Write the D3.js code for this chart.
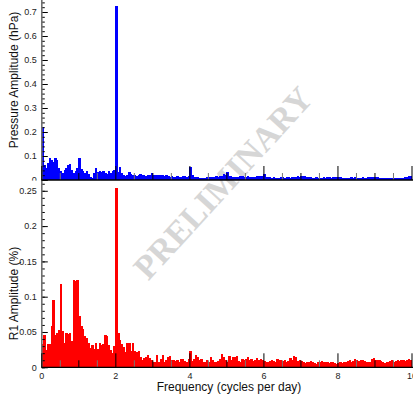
<!DOCTYPE html>
<html>
<head>
<meta charset="utf-8">
<script src="https://cdn.jsdelivr.net/npm/d3@7"></script>
<style>
  html, body { margin: 0; padding: 0; background: #fff; overflow: hidden; }
  .sans { font-family: "Liberation Sans", Arial, sans-serif; }
  .stamp { font-family: "Liberation Serif", "Times New Roman", serif; font-weight: bold; }
</style>
</head>
<body>
<svg id="chart" width="413" height="400"></svg>
<script>
// Spectral bins: left edge of each 0.05 cycles/day bin from 0 to 10
const binWidth = 0.05;

// Surface pressure amplitude spectrum (hPa), one value per bin
const pressureAmp = [
  0.222, 0.062, 0.049, 0.072, 0.090, 0.083, 0.076, 0.090, 0.083, 0.049,
  0.039, 0.028, 0.042, 0.049, 0.062, 0.066, 0.042, 0.031, 0.039, 0.049,
  0.090, 0.045, 0.039, 0.028, 0.039, 0.025, 0.014, 0.007, 0.028, 0.049,
  0.035, 0.039, 0.035, 0.038, 0.028, 0.025, 0.039, 0.031, 0.039, 0.042,
  0.725, 0.035, 0.055, 0.028, 0.021, 0.017, 0.019, 0.032, 0.024, 0.021,
  0.019, 0.017, 0.019, 0.025, 0.022, 0.019, 0.018, 0.021, 0.020, 0.028,
  0.021, 0.020, 0.022, 0.021, 0.019, 0.020, 0.018, 0.021, 0.015, 0.014,
  0.017, 0.014, 0.014, 0.015, 0.013, 0.014, 0.018, 0.016, 0.014, 0.017,
  0.055, 0.022, 0.014, 0.012, 0.011, 0.010, 0.009, 0.010, 0.010, 0.012,
  0.011, 0.013, 0.012, 0.014, 0.015, 0.013, 0.016, 0.018, 0.025, 0.020,
  0.032, 0.018, 0.015, 0.013, 0.012, 0.014, 0.013, 0.016, 0.015, 0.014,
  0.013, 0.015, 0.014, 0.012, 0.014, 0.013, 0.015, 0.018, 0.016, 0.018,
  0.025, 0.014, 0.012, 0.011, 0.010, 0.011, 0.010, 0.009, 0.010, 0.011,
  0.012, 0.010, 0.011, 0.012, 0.010, 0.012, 0.011, 0.013, 0.015, 0.014,
  0.016, 0.017, 0.015, 0.013, 0.012, 0.011, 0.010, 0.010, 0.012, 0.010,
  0.008, 0.009, 0.011, 0.010, 0.012, 0.011, 0.010, 0.012, 0.011, 0.012,
  0.013, 0.011, 0.010, 0.009, 0.008, 0.010, 0.009, 0.011, 0.010, 0.012,
  0.008, 0.009, 0.010, 0.011, 0.010, 0.009, 0.011, 0.012, 0.013, 0.014,
  0.013, 0.012, 0.010, 0.009, 0.010, 0.008, 0.007, 0.009, 0.010, 0.009,
  0.008, 0.007, 0.009, 0.010, 0.008, 0.009, 0.011, 0.013, 0.016, 0.015
];

// R1 amplitude spectrum (%), one value per bin
const r1Amp = [
  0.033, 0.046, 0.025, 0.033, 0.033, 0.059, 0.095, 0.046, 0.049, 0.053,
  0.118, 0.051, 0.035, 0.048, 0.047, 0.049, 0.037, 0.123, 0.122, 0.124,
  0.072, 0.059, 0.054, 0.044, 0.041, 0.035, 0.027, 0.032, 0.026, 0.035,
  0.026, 0.034, 0.031, 0.033, 0.046, 0.045, 0.031, 0.025, 0.020, 0.030,
  0.254, 0.049, 0.038, 0.033, 0.029, 0.022, 0.035, 0.034, 0.023, 0.034,
  0.023, 0.021, 0.023, 0.015, 0.010, 0.013, 0.015, 0.018, 0.013, 0.011,
  0.008, 0.007, 0.017, 0.008, 0.012, 0.017, 0.008, 0.010, 0.014, 0.016,
  0.010, 0.010, 0.009, 0.010, 0.008, 0.012, 0.012, 0.009, 0.008, 0.012,
  0.023, 0.009, 0.012, 0.017, 0.014, 0.011, 0.012, 0.008, 0.007, 0.011,
  0.008, 0.015, 0.010, 0.008, 0.007, 0.009, 0.012, 0.019, 0.014, 0.011,
  0.008, 0.016, 0.010, 0.014, 0.015, 0.016, 0.009, 0.007, 0.012, 0.011,
  0.012, 0.014, 0.010, 0.012, 0.009, 0.011, 0.013, 0.010, 0.012, 0.011,
  0.009, 0.008, 0.007, 0.009, 0.010, 0.009, 0.008, 0.012, 0.011, 0.010,
  0.009, 0.010, 0.008, 0.009, 0.013, 0.011, 0.016, 0.015, 0.009, 0.010,
  0.009, 0.007, 0.006, 0.008, 0.007, 0.009, 0.008, 0.006, 0.005, 0.007,
  0.008, 0.009, 0.008, 0.007, 0.008, 0.006, 0.007, 0.007, 0.006, 0.005,
  0.006, 0.007, 0.006, 0.008, 0.007, 0.009, 0.010, 0.008, 0.009, 0.012,
  0.010, 0.009, 0.010, 0.011, 0.009, 0.008, 0.007, 0.008, 0.012, 0.013,
  0.011, 0.010, 0.011, 0.009, 0.007, 0.006, 0.008, 0.007, 0.009, 0.010,
  0.008, 0.009, 0.010, 0.009, 0.011, 0.010, 0.009, 0.011, 0.012, 0.010
];

// Axis ticks
const freqLabelTicks = [0, 2, 4, 6, 8, 10];
const freqIntTicks = [1, 3, 5, 7, 9];
const freqHalfTicks = [0.5, 1.5, 2.5, 3.5, 4.5, 5.5, 6.5, 7.5, 8.5, 9.5];
const pressureLabelTicks = [0, 0.1, 0.2, 0.3, 0.4, 0.5, 0.6, 0.7];
const pressureMinorStep = 0.02;
const r1LabelTicks = [0, 0.05, 0.1, 0.15, 0.2, 0.25];
const r1MinorStep = 0.01;

const freqs = pressureAmp.map((_, i) => i * binWidth);

const svg = d3.select("#chart");

const x = d3.scaleLinear().domain([0, 10]).range([41.3, 411.5]);
const yTop = d3.scaleLinear().domain([0, 0.75]).range([180, 0]);
const yBot = d3.scaleLinear().domain([0, 0.265]).range([367.3, 180.2]);

const fmt = d => String(+d.toFixed(2));
const axisX = 41.8;
const seam = 0.5; // small overlap so neighbouring bars read as one filled spectrum

function styleLabels(g) {
  g.selectAll("text")
    .attr("class", "sans")
    .attr("font-size", 9)
    .attr("fill", "#222");
}

// Upper panel value labels (its "0" is half hidden behind the lower panel)
svg.append("g")
  .attr("transform", `translate(${axisX},0)`)
  .call(d3.axisLeft(yTop).tickValues(pressureLabelTicks).tickSize(0).tickPadding(5).tickFormat(fmt))
  .call(g => g.select(".domain").remove())
  .call(styleLabels);

// Lower panel background
svg.append("rect")
  .attr("x", 0).attr("y", 180.6).attr("width", 413).attr("height", 220)
  .attr("fill", "#fff");

// Watermark
svg.append("text")
  .attr("class", "stamp")
  .attr("transform", "translate(223,183) rotate(-47.5)")
  .attr("text-anchor", "middle")
  .attr("dominant-baseline", "central")
  .attr("font-size", 34)
  .attr("fill", "#d6d6d6")
  .text("PRELIMINARY");

// Bars
function drawBars(values, yScale, colour) {
  svg.append("g")
    .attr("shape-rendering", "crispEdges")
    .selectAll("rect")
    .data(freqs.map((f, i) => ({ f, v: values[i] })))
    .join("rect")
    .attr("x", d => x(d.f))
    .attr("width", d => x(d.f + binWidth) - x(d.f) + seam)
    .attr("y", d => yScale(d.v))
    .attr("height", d => yScale(0) - yScale(d.v))
    .attr("fill", colour);
}
drawBars(pressureAmp, yTop, "#0000ff");
drawBars(r1Amp, yBot, "#ff0000");

// Value-axis ticks (pointing into the plot)
function valueTicks(scale, labels, step, top) {
  const minor = d3.range(0, top + 1e-9, step);
  const g = svg.append("g").attr("transform", `translate(${axisX},0)`);
  g.append("g").call(d3.axisRight(scale).tickValues(minor).tickSize(3).tickFormat(""))
    .call(a => a.select(".domain").remove());
  g.append("g").call(d3.axisRight(scale).tickValues(labels).tickSize(6).tickFormat(""))
    .call(a => a.select(".domain").remove());
  g.selectAll("line").attr("stroke", "#000").attr("stroke-width", 1);
  g.append("line")
    .attr("x1", 0).attr("x2", 0)
    .attr("y1", scale.range()[0]).attr("y2", scale.range()[1])
    .attr("stroke", "#6e6e6e").attr("stroke-width", 1.6);
}
valueTicks(yTop, pressureLabelTicks, pressureMinorStep, 0.75);
valueTicks(yBot, r1LabelTicks, r1MinorStep, 0.265);

// Frequency-axis ticks (pointing up into each panel)
function freqTicks(yPos) {
  const g = svg.append("g").attr("transform", `translate(0,${yPos})`);
  g.append("g").call(d3.axisTop(x).tickValues(freqHalfTicks).tickSize(7).tickFormat(""))
    .call(a => a.select(".domain").remove())
    .call(a => a.selectAll("line").attr("stroke", "#777"));
  g.append("g").call(d3.axisTop(x).tickValues(freqIntTicks).tickSize(7).tickFormat(""))
    .call(a => a.select(".domain").remove())
    .call(a => a.selectAll("line").attr("stroke", "#000"));
  g.append("g").call(d3.axisTop(x).tickValues(freqLabelTicks).tickSize(14).tickFormat(""))
    .call(a => a.select(".domain").remove())
    .call(a => a.selectAll("line").attr("stroke", "#000"));
  g.append("line")
    .attr("x1", x(0)).attr("x2", x(10) + 2)
    .attr("stroke", "#000").attr("stroke-width", 1.3);
}
freqTicks(180);
freqTicks(367.3);

// Lower panel value labels
svg.append("g")
  .attr("transform", `translate(${axisX},0)`)
  .call(d3.axisLeft(yBot).tickValues(r1LabelTicks).tickSize(0).tickPadding(5).tickFormat(fmt))
  .call(g => g.select(".domain").remove())
  .call(styleLabels);

// Frequency labels
svg.append("g")
  .attr("transform", `translate(0,367.3)`)
  .call(d3.axisBottom(x).tickValues(freqLabelTicks).tickSize(0).tickPadding(5).tickFormat(d3.format("d")))
  .call(g => g.select(".domain").remove())
  .call(styleLabels);

// Axis titles
svg.append("text")
  .attr("class", "sans")
  .attr("transform", "translate(18,80) rotate(-90)")
  .attr("text-anchor", "middle")
  .attr("font-size", 12)
  .attr("fill", "#111")
  .text("Pressure Amplitude (hPa)");

svg.append("text")
  .attr("class", "sans")
  .attr("transform", "translate(18,293.5) rotate(-90)")
  .attr("text-anchor", "middle")
  .attr("font-size", 12)
  .attr("fill", "#111")
  .text("R1 Amplitude (%)");

svg.append("text")
  .attr("class", "sans")
  .attr("x", 229).attr("y", 390.5)
  .attr("text-anchor", "middle")
  .attr("font-size", 12)
  .attr("fill", "#111")
  .text("Frequency (cycles per day)");
</script>
</body>
</html>
